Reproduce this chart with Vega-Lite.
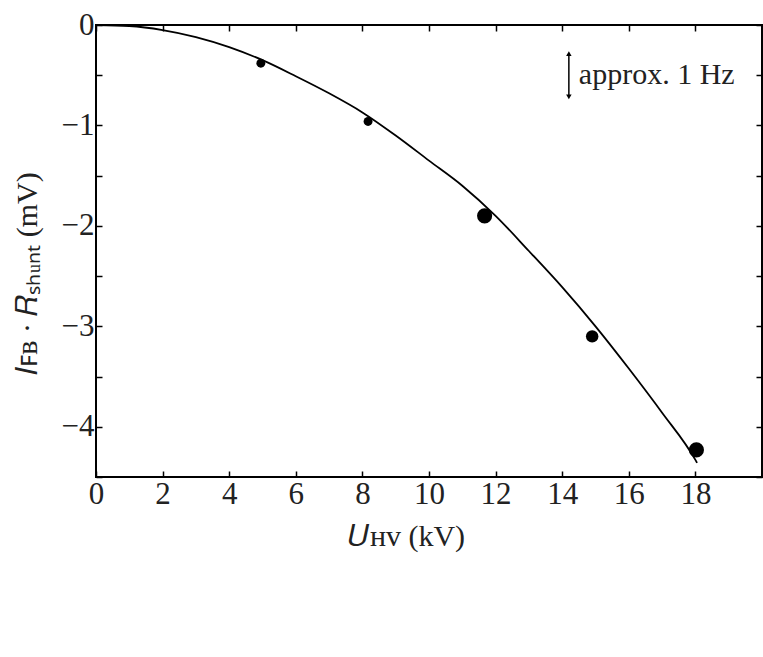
{
  "$schema": "https://vega.github.io/schema/vega-lite/v6.json",
  "autosize": "none",
  "width": 666,
  "height": 452,
  "padding": {"left": 96, "top": 25, "right": 1, "bottom": 180},
  "background": "white",
  "config": {
    "view": {"stroke": "black", "strokeWidth": 2},
    "font": "Liberation Serif",
    "axis": {"domain": false, "grid": false, "labelFlush": false, "tickColor": "black", "tickWidth": 1.5, "labelColor": "#222", "titleColor": "#222", "labelFont": "Liberation Serif", "titleFont": "Liberation Serif", "labelFontSize": 31, "titleFontSize": 30, "titleFontWeight": "normal"}
  },
  "datasets": {
    "curve": [
      {"U": 0, "V": 0}, {"U": 1, "V": -0.01}, {"U": 2, "V": -0.05}, {"U": 3, "V": -0.12},
      {"U": 4, "V": -0.22}, {"U": 5, "V": -0.35}, {"U": 6, "V": -0.51}, {"U": 7, "V": -0.68},
      {"U": 8, "V": -0.87}, {"U": 9, "V": -1.1}, {"U": 10, "V": -1.35}, {"U": 11, "V": -1.6},
      {"U": 12, "V": -1.9}, {"U": 13, "V": -2.25}, {"U": 14, "V": -2.61}, {"U": 15, "V": -3.0},
      {"U": 16, "V": -3.42}, {"U": 17, "V": -3.86}, {"U": 18, "V": -4.33}, {"U": 18.05, "V": -4.36}
    ],
    "points": [
      {"U": 4.95, "V": -0.38, "amp": 1},
      {"U": 8.17, "V": -0.96, "amp": 1},
      {"U": 11.67, "V": -1.9, "amp": 3},
      {"U": 14.9, "V": -3.1, "amp": 2},
      {"U": 18.03, "V": -4.23, "amp": 3}
    ],
    "arrow": [{"U": 14.2, "V1": -0.29, "V2": -0.71}],
    "heads": [
      {"U": 14.2, "V": -0.285, "dir": "up"},
      {"U": 14.2, "V": -0.715, "dir": "down"}
    ],
    "note": [{"U": 14.5, "V": -0.5, "label": "approx. 1 Hz"}]
  },
  "resolve": {"axis": {"x": "independent", "y": "independent"}},
  "layer": [
    {
      "data": {"name": "curve"},
      "mark": {"type": "line", "color": "black", "strokeWidth": 1.8, "clip": true, "interpolate": "monotone"},
      "encoding": {
        "x": {"field": "U", "type": "quantitative",
          "scale": {"domain": [0, 20], "nice": false, "zero": false},
          "axis": {"orient": "bottom", "values": [0, 2, 4, 6, 8, 10, 12, 14, 16, 18, 20], "labelExpr": "datum.value == 20 ? '' : datum.label", "tickSize": -6, "labelPadding": 8, "title": "𝑈ʜᴠ (kV)", "titleX": 310, "titleY": 59, "titleBaseline": "middle"}},
        "y": {"field": "V", "type": "quantitative",
          "scale": {"domain": [-4.5, 0], "nice": false, "zero": false},
          "axis": {"orient": "left", "values": [-4.5, -4, -3.5, -3, -2.5, -2, -1.5, -1, -0.5, 0], "labelExpr": "datum.value % 1 == 0 ? format(datum.value, 'd') : ''", "tickSize": -6, "labelPadding": 8, "title": "𝐼ꜰʙ · 𝑅ₛₕᵤₙₜ (mV)", "titleX": -69, "titleY": 248, "titleBaseline": "middle"}}
      }
    },
    {
      "data": {"name": "points"},
      "mark": {"type": "circle", "color": "black", "opacity": 1},
      "encoding": {
        "x": {"field": "U", "type": "quantitative",
          "axis": {"orient": "top", "values": [0, 2, 4, 6, 8, 10, 12, 14, 16, 18, 20], "labels": false, "tickSize": -6, "title": null}},
        "y": {"field": "V", "type": "quantitative",
          "axis": {"orient": "right", "values": [-4.5, -4, -3.5, -3, -2.5, -2, -1.5, -1, -0.5, 0], "labels": false, "tickSize": -6, "title": null}},
        "size": {"field": "amp", "type": "quantitative", "scale": {"domain": [1, 3], "range": [80, 230], "zero": false}, "legend": null}
      }
    },
    {
      "data": {"name": "arrow"},
      "mark": {"type": "rule", "color": "black", "strokeWidth": 1.5},
      "encoding": {
        "x": {"field": "U", "type": "quantitative", "axis": null},
        "y": {"field": "V1", "type": "quantitative", "axis": null},
        "y2": {"field": "V2"}
      }
    },
    {
      "data": {"name": "heads"},
      "mark": {"type": "point", "filled": true, "color": "black", "opacity": 1, "size": 30},
      "encoding": {
        "x": {"field": "U", "type": "quantitative", "axis": null},
        "y": {"field": "V", "type": "quantitative", "axis": null},
        "shape": {"field": "dir", "type": "nominal", "scale": {"domain": ["up", "down"], "range": ["triangle-up", "triangle-down"]}, "legend": null}
      }
    },
    {
      "data": {"name": "note"},
      "mark": {"type": "text", "align": "left", "baseline": "middle", "fontSize": 30, "font": "Liberation Serif", "color": "#222"},
      "encoding": {
        "x": {"field": "U", "type": "quantitative", "axis": null},
        "y": {"field": "V", "type": "quantitative", "axis": null},
        "text": {"field": "label"}
      }
    }
  ]
}
